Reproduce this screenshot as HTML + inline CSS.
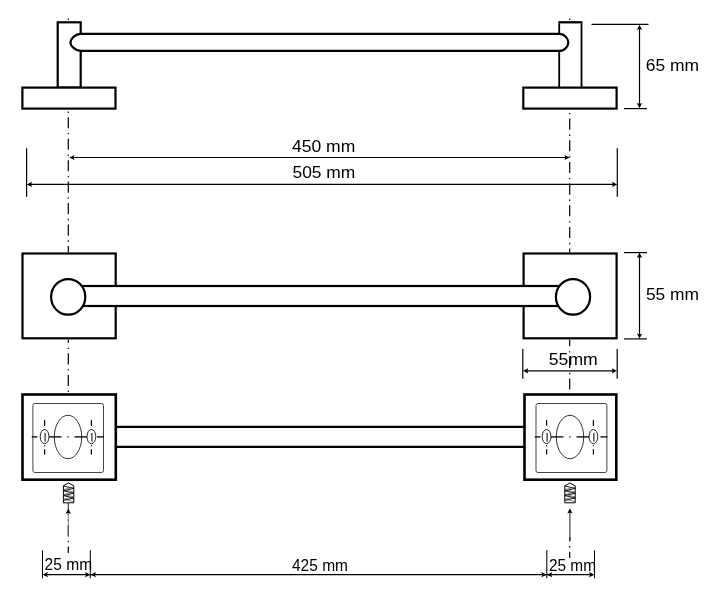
<!DOCTYPE html>
<html><head><meta charset="utf-8"><style>
html,body{margin:0;padding:0;background:#fff;}
svg{display:block;will-change:transform;}
</style></head><body>
<svg width="720" height="598" viewBox="0 0 720 598">
<rect width="720" height="598" fill="#fff"/>
<g fill="#fff" stroke="#000" stroke-width="2.2"><rect x="57.7" y="22.3" width="23" height="65.3"/><rect x="22.4" y="87.6" width="93.1" height="21"/><rect x="559.2" y="22.3" width="22.3" height="65.3" stroke="none"/><path d="M559.2 87.6 L559.2 23.3 M581.5 87.6 L581.5 23.3" stroke-width="1.8"/><path d="M558.3 22.3 L582.4 22.3" stroke-width="2.3"/><rect x="523.3" y="87.6" width="93.3" height="21"/><path d="M80.7 33.9 L559.4 33.9 C564.8 33.9 568.3 39 568.3 42.4 C568.3 45.8 564.8 50.9 559.4 50.9 L80.7 50.9 C75.3 50.9 70.4 45.8 70.4 42.4 C70.4 39 75.3 33.9 80.7 33.9 Z" fill="#fff"/></g>
<g fill="#fff" stroke="#000" stroke-width="2.2"><rect x="22.5" y="253.5" width="93.2" height="84.8"/><rect x="523.6" y="253.5" width="93.0" height="84.8"/><rect x="80" y="286" width="480" height="20" /><ellipse cx="68.2" cy="296.9" rx="17.1" ry="17.8"/><ellipse cx="573" cy="296.9" rx="17.1" ry="17.8"/></g>
<g fill="#fff" stroke="#000"><rect x="22.5" y="394.5" width="93.3" height="85.2" stroke-width="2.6"/><rect x="524.5" y="394.5" width="91.8" height="85.2" stroke-width="2.6"/><path d="M115.8 426.9 L524.5 426.9 M115.8 446.8 L524.5 446.8" stroke-width="2.2"/></g>
<g fill="none" stroke="#000"><rect x="32.9" y="403.5" width="70.6" height="69" rx="2" ry="2" stroke-width="1" stroke="#444"/><ellipse cx="68.0" cy="437" rx="13.7" ry="21.7" stroke-width="1" stroke="#333"/><ellipse cx="44.6" cy="436.6" rx="4.4" ry="7.1" stroke-width="1" stroke="#222"/><line x1="44.6" y1="420" x2="44.6" y2="425.8" stroke-width="1.2"/><line x1="45.1" y1="432.9" x2="45.1" y2="441.7" stroke-width="1"/><line x1="44.6" y1="445.2" x2="44.6" y2="446.4" stroke-width="1"/><line x1="44.6" y1="449.2" x2="44.6" y2="454.6" stroke-width="1.2"/><ellipse cx="91.4" cy="436.6" rx="4.4" ry="7.1" stroke-width="1" stroke="#222"/><line x1="91.4" y1="420" x2="91.4" y2="425.8" stroke-width="1.2"/><line x1="91.9" y1="432.9" x2="91.9" y2="441.7" stroke-width="1"/><line x1="91.4" y1="445.2" x2="91.4" y2="446.4" stroke-width="1"/><line x1="91.4" y1="449.2" x2="91.4" y2="454.6" stroke-width="1.2"/><line x1="31.7" y1="436.9" x2="37.4" y2="436.9" stroke-width="1.3"/><line x1="49.0" y1="436.9" x2="61.5" y2="436.9" stroke-width="1.3"/><line x1="67.4" y1="436.9" x2="68.6" y2="436.9" stroke-width="1.3"/><line x1="74.5" y1="436.9" x2="87.0" y2="436.9" stroke-width="1.3"/><line x1="97.0" y1="436.9" x2="104.0" y2="436.9" stroke-width="1.3"/><rect x="536.0" y="403.5" width="70.89999999999998" height="69" rx="2" ry="2" stroke-width="1" stroke="#444"/><ellipse cx="570.0" cy="437" rx="13.7" ry="21.7" stroke-width="1" stroke="#333"/><ellipse cx="546.6" cy="436.6" rx="4.4" ry="7.1" stroke-width="1" stroke="#222"/><line x1="546.6" y1="420" x2="546.6" y2="425.8" stroke-width="1.2"/><line x1="547.1" y1="432.9" x2="547.1" y2="441.7" stroke-width="1"/><line x1="546.6" y1="445.2" x2="546.6" y2="446.4" stroke-width="1"/><line x1="546.6" y1="449.2" x2="546.6" y2="454.6" stroke-width="1.2"/><ellipse cx="593.4" cy="436.6" rx="4.4" ry="7.1" stroke-width="1" stroke="#222"/><line x1="593.4" y1="420" x2="593.4" y2="425.8" stroke-width="1.2"/><line x1="593.9" y1="432.9" x2="593.9" y2="441.7" stroke-width="1"/><line x1="593.4" y1="445.2" x2="593.4" y2="446.4" stroke-width="1"/><line x1="593.4" y1="449.2" x2="593.4" y2="454.6" stroke-width="1.2"/><line x1="534.8" y1="436.9" x2="540.5" y2="436.9" stroke-width="1.3"/><line x1="551.0" y1="436.9" x2="563.5" y2="436.9" stroke-width="1.3"/><line x1="569.4" y1="436.9" x2="570.6" y2="436.9" stroke-width="1.3"/><line x1="576.5" y1="436.9" x2="589.0" y2="436.9" stroke-width="1.3"/><line x1="600.4" y1="436.9" x2="607.4" y2="436.9" stroke-width="1.3"/></g>
<g fill="none" stroke="#000"><path d="M63.4 502.8 L63.4 485.8 L68.5 483 L73.8 485.8 L73.8 502.8 Z" fill="#fff" stroke-width="1"/><polyline points="63.4 486.00 73.8 488.40 63.4 490.80 73.8 493.20 63.4 495.60 73.8 498.00 63.4 500.40" stroke-width="0.9"/><polyline points="73.8 487.20 63.4 489.60 73.8 492.00 63.4 494.40 73.8 496.80 63.4 499.20 73.8 501.60" stroke-width="0.6" stroke="#444"/><path d="M564.8 502.8 L564.8 485.8 L569.9 483 L575.1999999999999 485.8 L575.1999999999999 502.8 Z" fill="#fff" stroke-width="1"/><polyline points="564.8 486.00 575.1999999999999 488.40 564.8 490.80 575.1999999999999 493.20 564.8 495.60 575.1999999999999 498.00 564.8 500.40" stroke-width="0.9"/><polyline points="575.1999999999999 487.20 564.8 489.60 575.1999999999999 492.00 564.8 494.40 575.1999999999999 496.80 564.8 499.20 575.1999999999999 501.60" stroke-width="0.6" stroke="#444"/></g>
<g stroke="#000" stroke-width="1.2"><line x1="68.3" y1="18.60" x2="68.3" y2="20.00"/><line x1="68.3" y1="111.50" x2="68.3" y2="112.90"/><line x1="68.3" y1="117.20" x2="68.3" y2="128.30"/><line x1="68.3" y1="132.97" x2="68.3" y2="134.37"/><line x1="68.3" y1="138.67" x2="68.3" y2="149.77"/><line x1="68.3" y1="154.44" x2="68.3" y2="155.84"/><line x1="68.3" y1="160.14" x2="68.3" y2="171.24"/><line x1="68.3" y1="175.91" x2="68.3" y2="177.31"/><line x1="68.3" y1="181.61" x2="68.3" y2="192.71"/><line x1="68.3" y1="197.38" x2="68.3" y2="198.78"/><line x1="68.3" y1="203.08" x2="68.3" y2="214.18"/><line x1="68.3" y1="218.85" x2="68.3" y2="220.25"/><line x1="68.3" y1="224.55" x2="68.3" y2="235.65"/><line x1="68.3" y1="240.32" x2="68.3" y2="241.72"/><line x1="68.3" y1="246.02" x2="68.3" y2="252.40"/><line x1="68.3" y1="339.50" x2="68.3" y2="343.00"/><line x1="68.3" y1="347.67" x2="68.3" y2="349.07"/><line x1="68.3" y1="353.37" x2="68.3" y2="364.47"/><line x1="68.3" y1="369.14" x2="68.3" y2="370.54"/><line x1="68.3" y1="374.84" x2="68.3" y2="385.94"/><line x1="68.3" y1="390.61" x2="68.3" y2="392.01"/><line x1="68.3" y1="514.00" x2="68.3" y2="514.76"/><line x1="68.3" y1="519.43" x2="68.3" y2="520.83"/><line x1="68.3" y1="525.13" x2="68.3" y2="536.23"/><line x1="68.3" y1="540.90" x2="68.3" y2="542.30"/><line x1="68.3" y1="546.60" x2="68.3" y2="553.00"/><line x1="569.7" y1="18.60" x2="569.7" y2="20.00"/><line x1="569.7" y1="112.90" x2="569.7" y2="114.30"/><line x1="569.7" y1="118.60" x2="569.7" y2="129.70"/><line x1="569.7" y1="134.56" x2="569.7" y2="135.96"/><line x1="569.7" y1="140.26" x2="569.7" y2="151.36"/><line x1="569.7" y1="156.22" x2="569.7" y2="157.62"/><line x1="569.7" y1="161.92" x2="569.7" y2="173.02"/><line x1="569.7" y1="177.88" x2="569.7" y2="179.28"/><line x1="569.7" y1="183.58" x2="569.7" y2="194.68"/><line x1="569.7" y1="199.54" x2="569.7" y2="200.94"/><line x1="569.7" y1="205.24" x2="569.7" y2="216.34"/><line x1="569.7" y1="221.20" x2="569.7" y2="222.60"/><line x1="569.7" y1="226.90" x2="569.7" y2="238.00"/><line x1="569.7" y1="242.86" x2="569.7" y2="244.26"/><line x1="569.7" y1="248.56" x2="569.7" y2="252.40"/><line x1="569.7" y1="339.50" x2="569.7" y2="346.30"/><line x1="569.7" y1="351.16" x2="569.7" y2="352.56"/><line x1="569.7" y1="356.86" x2="569.7" y2="367.96"/><line x1="569.7" y1="372.82" x2="569.7" y2="374.22"/><line x1="569.7" y1="378.52" x2="569.7" y2="389.62"/><line x1="569.7" y1="537.00" x2="569.7" y2="541.24"/><line x1="569.7" y1="546.10" x2="569.7" y2="547.50"/><line x1="569.7" y1="551.80" x2="569.7" y2="558.00"/></g>
<g stroke="#000" stroke-width="1.2"><line x1="591.5" y1="24.3" x2="648.5" y2="24.3"/><line x1="624" y1="108.6" x2="647" y2="108.6"/><line x1="639.5" y1="27" x2="639.5" y2="106"/><line x1="72" y1="157.5" x2="567" y2="157.5"/><line x1="29" y1="184.4" x2="615" y2="184.4"/><line x1="26.6" y1="148.3" x2="26.6" y2="196.7"/><line x1="617.3" y1="148.3" x2="617.3" y2="196.7"/><line x1="624" y1="252.6" x2="647" y2="252.6"/><line x1="624" y1="338.9" x2="647" y2="338.9"/><line x1="639.5" y1="255" x2="639.5" y2="336"/><line x1="522.8" y1="349" x2="522.8" y2="378.7"/><line x1="617.2" y1="349" x2="617.2" y2="378.7"/><line x1="525" y1="370.8" x2="615" y2="370.8"/><line x1="42.5" y1="550.3" x2="42.5" y2="578.3" stroke-width="1.05"/><line x1="90.3" y1="550.3" x2="90.3" y2="578.3" stroke-width="1.05"/><line x1="546.8" y1="550.3" x2="546.8" y2="578.3" stroke-width="1.05"/><line x1="594.5" y1="550.3" x2="594.5" y2="578.3" stroke-width="1.05"/><line x1="44" y1="574.7" x2="593" y2="574.7"/><line x1="68.3" y1="503" x2="68.3" y2="510" stroke="#333" stroke-width="1.1"/><line x1="68.3" y1="510" x2="68.3" y2="537" stroke="#777" stroke-width="0.9"/><line x1="569.9" y1="510" x2="569.9" y2="541" stroke="#333" stroke-width="1.1"/></g>
<g fill="#000" stroke="none"><path d="M639.5 24.8 L636.9 30.0 L639.5 29.1 L642.1 30.0 Z"/><path d="M639.5 108.2 L636.9 103.0 L639.5 103.9 L642.1 103.0 Z"/><path d="M69.3 157.5 L74.5 154.9 L73.6 157.5 L74.5 160.1 Z"/><path d="M569.7 157.5 L564.5 154.9 L565.4 157.5 L564.5 160.1 Z"/><path d="M26.8 184.4 L32.0 181.8 L31.1 184.4 L32.0 187.0 Z"/><path d="M617.2 184.4 L612.0 181.8 L612.9 184.4 L612.0 187.0 Z"/><path d="M639.5 252.6 L636.9 257.8 L639.5 256.90000000000003 L642.1 257.8 Z"/><path d="M639.5 338.8 L636.9 333.6 L639.5 334.5 L642.1 333.6 Z"/><path d="M523 370.8 L528.2 368.2 L527.3000000000001 370.8 L528.2 373.40000000000003 Z"/><path d="M617 370.8 L611.8 368.2 L612.6999999999999 370.8 L611.8 373.40000000000003 Z"/><path d="M42.7 574.7 L47.900000000000006 572.1 L47.00000000000001 574.7 L47.900000000000006 577.3000000000001 Z"/><path d="M90.3 574.7 L85.1 572.1 L86.0 574.7 L85.1 577.3000000000001 Z"/><path d="M90.7 574.7 L95.9 572.1 L95.0 574.7 L95.9 577.3000000000001 Z"/><path d="M546.6 574.7 L541.4 572.1 L542.3 574.7 L541.4 577.3000000000001 Z"/><path d="M547 574.7 L552.2 572.1 L551.3000000000001 574.7 L552.2 577.3000000000001 Z"/><path d="M594.3 574.7 L589.0999999999999 572.1 L589.9999999999999 574.7 L589.0999999999999 577.3000000000001 Z"/><path d="M68.3 508.6 L65.7 513.8000000000001 L68.3 512.9000000000001 L70.89999999999999 513.8000000000001 Z"/><path d="M569.9 508.3 L567.3 513.5 L569.9 512.6 L572.5 513.5 Z"/></g>
<g fill="#000" font-family="Liberation Sans, sans-serif"><text x="645.7" y="70.7" font-size="17" textLength="53.299999999999955" lengthAdjust="spacingAndGlyphs">65 mm</text><text x="292" y="151.7" font-size="17" textLength="63.30000000000001" lengthAdjust="spacingAndGlyphs">450 mm</text><text x="292.5" y="178" font-size="17" textLength="62.80000000000001" lengthAdjust="spacingAndGlyphs">505 mm</text><text x="645.9" y="299.8" font-size="17" textLength="53.200000000000045" lengthAdjust="spacingAndGlyphs">55 mm</text><text x="548.8" y="365" font-size="17" textLength="49.0" lengthAdjust="spacingAndGlyphs">55mm</text><text x="44.6" y="570.2" font-size="17" textLength="47.49999999999999" lengthAdjust="spacingAndGlyphs">25 mm</text><text x="292" y="570.8" font-size="17" textLength="56" lengthAdjust="spacingAndGlyphs">425 mm</text><text x="548.9" y="570.6" font-size="17" textLength="47.10000000000002" lengthAdjust="spacingAndGlyphs">25 mm</text></g>
</svg>
</body></html>
